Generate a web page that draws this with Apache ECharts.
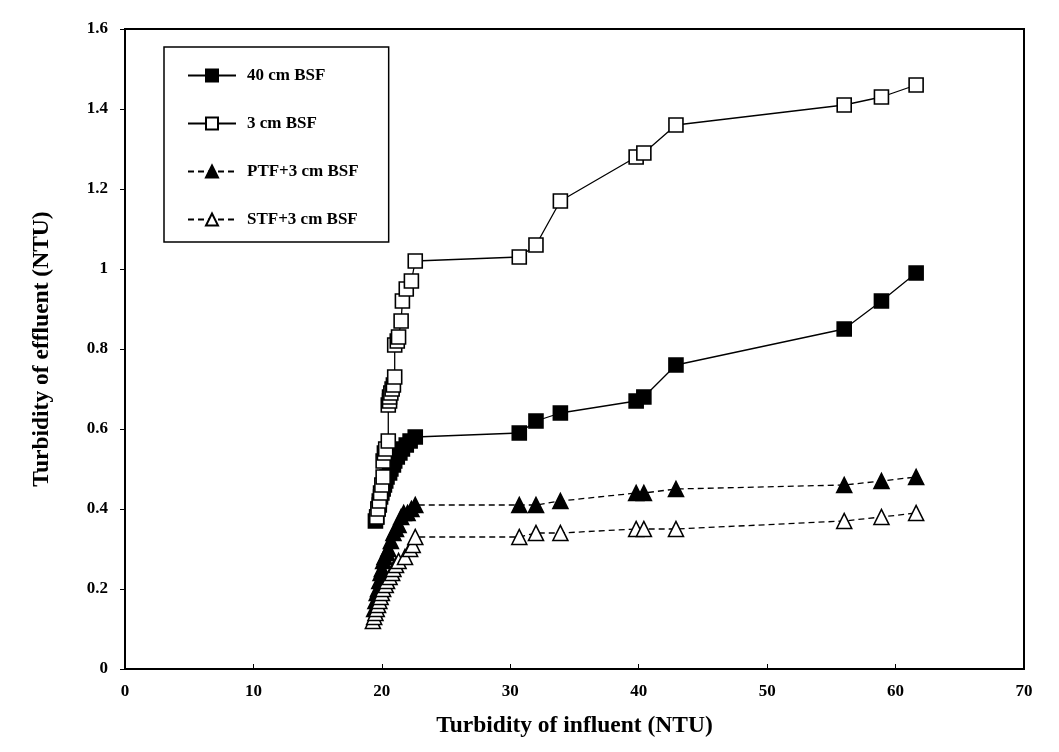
<!DOCTYPE html>
<html><head><meta charset="utf-8">
<script src="https://cdn.jsdelivr.net/npm/echarts@6/dist/echarts.min.js"></script>
<style>html,body{margin:0;padding:0;background:#fff}#c{width:1059px;height:752px}</style>
</head><body><div id="c"></div>
<script>
const seriesNames = ['40 cm BSF', '3 cm BSF', 'PTF+3 cm BSF', 'STF+3 cm BSF'];
const bsf40 = [[19.5,0.37],[19.6,0.38],[19.7,0.40],[19.8,0.41],[19.9,0.43],[20.0,0.44],[20.1,0.45],[20.2,0.46],[20.3,0.47],[20.4,0.48],[20.6,0.49],[20.7,0.50],[20.9,0.51],[21.0,0.52],[21.2,0.53],[21.4,0.54],[21.6,0.55],[21.9,0.56],[22.2,0.57],[22.6,0.58],
  [30.7,0.59],[32.0,0.62],[33.9,0.64],[39.8,0.67],[40.4,0.68],[42.9,0.76],[56.0,0.85],[58.9,0.92],[61.6,0.99]];
const bsf3 = [[19.6,0.38],[19.7,0.40],[19.8,0.42],[19.9,0.44],[20.0,0.46],[20.1,0.48],[20.1,0.52],[20.2,0.54],[20.3,0.55],[20.5,0.57],[20.5,0.66],[20.6,0.67],[20.6,0.68],[20.7,0.69],[20.8,0.70],[20.9,0.71],[21.0,0.73],[21.0,0.81],[21.2,0.82],[21.3,0.83],[21.5,0.87],[21.6,0.92],[21.9,0.95],[22.3,0.97],[22.6,1.02],
  [30.7,1.03],[32.0,1.06],[33.9,1.17],[39.8,1.28],[40.4,1.29],[42.9,1.36],[56.0,1.41],[58.9,1.43],[61.6,1.46]];
const ptf = [[19.4,0.15],[19.5,0.17],[19.6,0.19],[19.7,0.20],[19.8,0.22],[19.9,0.24],[20.0,0.25],[20.1,0.27],[20.2,0.28],[20.4,0.29],[20.5,0.30],[20.7,0.32],[20.9,0.34],[21.1,0.35],[21.3,0.36],[21.5,0.38],[21.7,0.39],[22.0,0.39],[22.3,0.40],[22.6,0.41],
  [30.7,0.41],[32.0,0.41],[33.9,0.42],[39.8,0.44],[40.4,0.44],[42.9,0.45],[56.0,0.46],[58.9,0.47],[61.6,0.48]];
const stf = [[19.3,0.12],[19.4,0.13],[19.5,0.14],[19.6,0.15],[19.7,0.16],[19.8,0.17],[19.9,0.18],[20.0,0.19],[20.1,0.20],[20.3,0.21],[20.4,0.22],[20.6,0.23],[20.8,0.24],[20.9,0.25],[21.1,0.26],[21.3,0.27],[21.8,0.28],[22.2,0.30],[22.4,0.31],[22.6,0.33],
  [30.7,0.33],[32.0,0.34],[33.9,0.34],[39.8,0.35],[40.4,0.35],[42.9,0.35],[56.0,0.37],[58.9,0.38],[61.6,0.39]];
const xTicks = [0,10,20,30,40,50,60,70];
const yTicks = [0,0.2,0.4,0.6,0.8,1,1.2,1.4,1.6];

const font = '"Liberation Serif", "Times New Roman", serif';
const tri = 'path://M0,10 L5,0 L10,10 Z';
function mk(name, data, symbol, filled, dashed) {
  return {
    name, type: 'line', data, symbol, symbolSize: symbol === 'rect' ? 14 : 15,
    showSymbol: true, animation: false,
    lineStyle: { color: '#000', width: 1.3, type: dashed ? [6,4] : 'solid' },
    itemStyle: { color: filled ? '#000' : '#fff', borderColor: '#000', borderWidth: 1.6 },
    z: 3
  };
}
const chart = echarts.init(document.getElementById('c'));
chart.setOption({
  backgroundColor: '#fff',
  animation: false,
  grid: { left: 125, right: 35, top: 29, bottom: 83, show: true, borderColor: '#000', borderWidth: 2 },
  legend: {
    left: 164, top: 47, orient: 'vertical', itemGap: 31, itemWidth: 48, itemHeight: 15,
    padding: [20, 30, 14, 23],
    borderColor: '#000', borderWidth: 1.5,
    textStyle: { fontFamily: font, fontWeight: 'bold', fontSize: 17, color: '#000', padding: [0, 0, 0, 6] },
    data: seriesNames
  },
  xAxis: {
    type: 'value', min: 0, max: 70, interval: 10,
    name: 'Turbidity of influent (NTU)', nameLocation: 'middle', nameGap: 45,
    nameTextStyle: { fontFamily: font, fontWeight: 'bold', fontSize: 23.5, color: '#000' },
    axisLine: { lineStyle: { color: '#000', width: 2 } },
    axisTick: { inside: true, length: 5, lineStyle: { color: '#000' } },
    splitLine: { show: false },
    axisLabel: { fontFamily: font, fontWeight: 'bold', fontSize: 17, color: '#000', margin: 14 }
  },
  yAxis: {
    type: 'value', min: 0, max: 1.6, interval: 0.2,
    name: 'Turbidity of effluent (NTU)', nameLocation: 'middle', nameGap: 71, nameRotate: 90,
    nameTextStyle: { fontFamily: font, fontWeight: 'bold', fontSize: 23.5, color: '#000' },
    axisLine: { lineStyle: { color: '#000', width: 2 } },
    axisTick: { inside: false, length: 5, lineStyle: { color: '#000' } },
    splitLine: { show: false },
    axisLabel: { fontFamily: font, fontWeight: 'bold', fontSize: 17, color: '#000', margin: 17,
      formatter: v => String(Math.round(v * 10) / 10) }
  },
  series: [
    mk(seriesNames[0], bsf40, 'rect', true, false),
    mk(seriesNames[1], bsf3, 'rect', false, false),
    mk(seriesNames[2], ptf, tri, true, true),
    mk(seriesNames[3], stf, tri, false, true)
  ]
});
</script></body></html>
